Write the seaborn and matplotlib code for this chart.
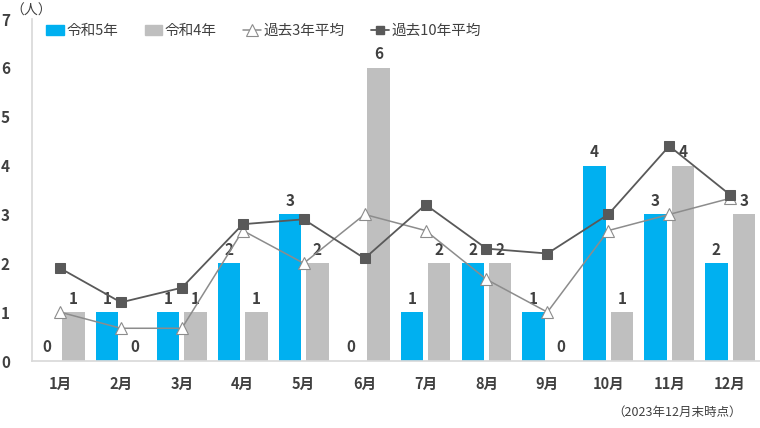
import numpy as np
import pandas as pd
import matplotlib
matplotlib.use("Agg")
import matplotlib.pyplot as plt
from matplotlib.lines import Line2D
from matplotlib.patches import Patch
import seaborn as sns

months = ["1月", "2月", "3月", "4月", "5月", "6月", "7月", "8月", "9月", "10月", "11月", "12月"]
r5 = [0, 1, 1, 2, 3, 0, 1, 2, 1, 4, 3, 2]
r4 = [1, 0, 1, 1, 2, 6, 2, 2, 0, 1, 4, 3]
avg3 = [1.0, 0.67, 0.67, 2.67, 2.0, 3.0, 2.67, 1.67, 1.0, 2.67, 3.0, 3.33]
avg10 = [1.9, 1.2, 1.5, 2.8, 2.9, 2.1, 3.2, 2.3, 2.2, 3.0, 4.4, 3.4]
series_names = ["令和5年", "令和4年", "過去3年平均", "過去10年平均"]
yticks = [0, 1, 2, 3, 4, 5, 6, 7]

sns.set_theme(style="white")
plt.rcParams["font.family"] = ["Noto Sans CJK JP", "DejaVu Sans"]

BLUE = "#00B0F0"
GRAY = "#BFBFBF"
DARK = "#595959"
MID = "#8C8C8C"
TXT = "#404040"

df = pd.DataFrame({
    "month": months * 2,
    "value": r5 + r4,
    "series": [series_names[0]] * 12 + [series_names[1]] * 12,
})

fig = plt.figure(figsize=(7.6, 4.28), dpi=100)
ax = fig.add_axes([32 / 760, 67 / 428, 728 / 760, 342 / 428])

sns.barplot(data=df, x="month", y="value", hue="series", order=months,
            hue_order=series_names[:2], palette=[BLUE, GRAY],
            width=0.9, gap=0.18, ax=ax, legend=False, errorbar=None,
            saturation=1, linewidth=0, edgecolor="none")

x = np.arange(len(months))
sns.lineplot(x=x, y=avg3, ax=ax, color=MID, linewidth=1.1, marker="^",
             markersize=9, markerfacecolor="white", markeredgecolor=MID,
             markeredgewidth=0.8, zorder=4)
sns.lineplot(x=x, y=avg10, ax=ax, color=DARK, linewidth=1.3, marker="s",
             markersize=7, markerfacecolor=DARK, markeredgecolor=DARK, zorder=5)

for cont in ax.containers:
    ax.bar_label(cont, fmt="%d", padding=4, fontsize=11, fontweight="bold",
                 color=TXT)

ax.set_xlim(-0.46, 11.49)
ax.set_ylim(0, 7)
ax.set_yticks(yticks)
ax.set_yticklabels([str(v) for v in yticks], fontsize=11, fontweight="bold", color=TXT)
ax.set_xticks(x)
ax.set_xticklabels(months, fontsize=10.5, fontweight="bold", color=TXT)
ax.tick_params(axis="y", length=0, pad=16)
ax.tick_params(axis="x", length=0, pad=11)
ax.set_xlabel("")
ax.set_ylabel("")
for s in ["top", "right"]:
    ax.spines[s].set_visible(False)
ax.spines["left"].set_color("#D9D9D9")
ax.spines["bottom"].set_color("#D9D9D9")
ax.grid(False)

fig.text(31 / 760, 1 - 11 / 428, "（人）", fontsize=10, color=TXT, ha="center", va="center")
fig.text(742 / 760, 1 - 412 / 428, "（2023年12月末時点）", fontsize=9, color=TXT,
         ha="right", va="center")

handles = [
    Patch(facecolor=BLUE, edgecolor=BLUE),
    Patch(facecolor=GRAY, edgecolor=GRAY),
    Line2D([], [], color=MID, linewidth=1.1, marker="^", markersize=8,
           markerfacecolor="white", markeredgecolor=MID, markeredgewidth=0.8),
    Line2D([], [], color=DARK, linewidth=1.3, marker="s", markersize=6,
           markerfacecolor=DARK, markeredgecolor=DARK),
]
fig.legend(handles, series_names, loc="center left",
           bbox_to_anchor=(46 / 760, 1 - 31 / 428), ncol=4, frameon=False,
           fontsize=10.5, handlelength=1.2, handletextpad=0.2, columnspacing=1.8,
           labelcolor=TXT, borderaxespad=0, borderpad=0)

fig.savefig("out.png", dpi=100)
